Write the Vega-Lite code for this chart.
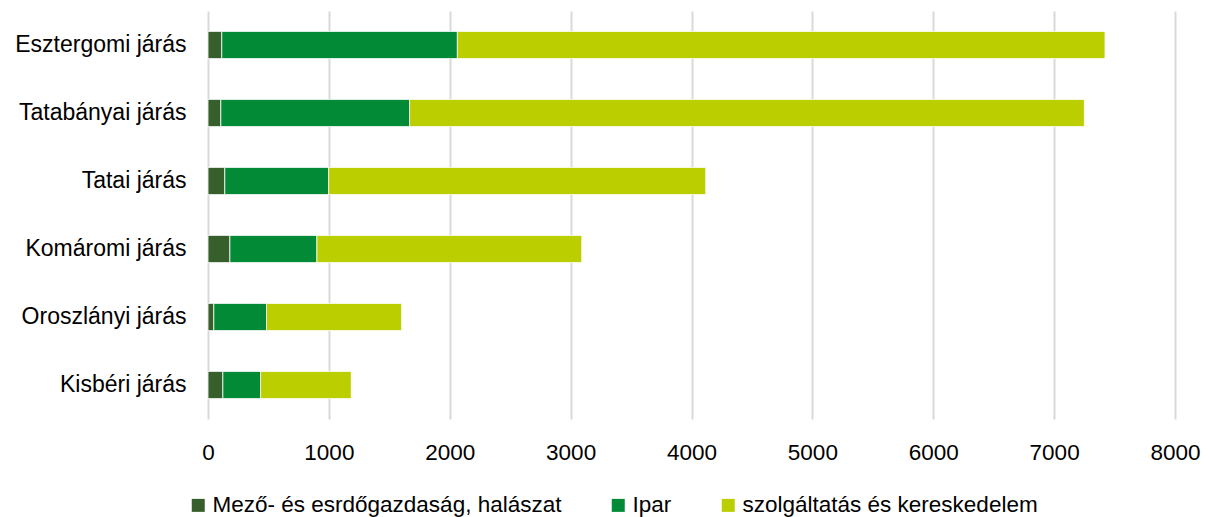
{
  "$schema": "https://vega.github.io/schema/vega-lite/v6.json",
  "autosize": "none",
  "width": 967,
  "height": 408,
  "padding": {"left": 208, "top": 11, "right": 34, "bottom": 98},
  "background": "white",
  "config": {
    "font": "Liberation Sans",
    "view": {"stroke": null}
  },
  "data": {
    "values": [
      {"jaras": "Esztergomi járás", "agazat": "Mező- és esrdőgazdaság, halászat", "o": 1, "v": 114},
      {"jaras": "Esztergomi járás", "agazat": "Ipar", "o": 2, "v": 1949},
      {"jaras": "Esztergomi járás", "agazat": "szolgáltatás és kereskedelem", "o": 3, "v": 5358},
      {"jaras": "Tatabányai járás", "agazat": "Mező- és esrdőgazdaság, halászat", "o": 1, "v": 106},
      {"jaras": "Tatabányai járás", "agazat": "Ipar", "o": 2, "v": 1562},
      {"jaras": "Tatabányai járás", "agazat": "szolgáltatás és kereskedelem", "o": 3, "v": 5582},
      {"jaras": "Tatai járás", "agazat": "Mező- és esrdőgazdaság, halászat", "o": 1, "v": 139},
      {"jaras": "Tatai járás", "agazat": "Ipar", "o": 2, "v": 859},
      {"jaras": "Tatai járás", "agazat": "szolgáltatás és kereskedelem", "o": 3, "v": 3120},
      {"jaras": "Komáromi járás", "agazat": "Mező- és esrdőgazdaság, halászat", "o": 1, "v": 181},
      {"jaras": "Komáromi járás", "agazat": "Ipar", "o": 2, "v": 720},
      {"jaras": "Komáromi járás", "agazat": "szolgáltatás és kereskedelem", "o": 3, "v": 2191},
      {"jaras": "Oroszlányi járás", "agazat": "Mező- és esrdőgazdaság, halászat", "o": 1, "v": 48},
      {"jaras": "Oroszlányi járás", "agazat": "Ipar", "o": 2, "v": 436},
      {"jaras": "Oroszlányi járás", "agazat": "szolgáltatás és kereskedelem", "o": 3, "v": 1118},
      {"jaras": "Kisbéri járás", "agazat": "Mező- és esrdőgazdaság, halászat", "o": 1, "v": 123},
      {"jaras": "Kisbéri járás", "agazat": "Ipar", "o": 2, "v": 312},
      {"jaras": "Kisbéri járás", "agazat": "szolgáltatás és kereskedelem", "o": 3, "v": 750}
    ]
  },
  "mark": {"type": "bar", "stroke": "white", "strokeWidth": 0.8},
  "encoding": {
    "y": {
      "field": "jaras",
      "type": "nominal",
      "sort": null,
      "scale": {"paddingInner": 0.6, "paddingOuter": 0.3},
      "axis": {
        "title": null,
        "domain": false,
        "ticks": false,
        "labelFontSize": 23,
        "labelColor": "#000000",
        "labelPadding": 22,
        "labelLimit": 0
      }
    },
    "x": {
      "field": "v",
      "type": "quantitative",
      "stack": "zero",
      "scale": {"domain": [0, 8000], "nice": false},
      "axis": {
        "title": null,
        "values": [0, 1000, 2000, 3000, 4000, 5000, 6000, 7000, 8000],
        "format": "d",
        "domain": false,
        "ticks": false,
        "grid": true,
        "gridColor": "#d9d9d9",
        "gridWidth": 2,
        "labelFontSize": 22.5,
        "labelColor": "#000000",
        "labelPadding": 22,
        "labelFlush": false
      }
    },
    "order": {"field": "o", "type": "quantitative"},
    "color": {
      "field": "agazat",
      "type": "nominal",
      "sort": ["Mező- és esrdőgazdaság, halászat", "Ipar", "szolgáltatás és kereskedelem"],
      "scale": {
        "domain": ["Mező- és esrdőgazdaság, halászat", "Ipar", "szolgáltatás és kereskedelem"],
        "range": ["#375F2B", "#028A36", "#BBCE00"]
      },
      "legend": {
        "title": null,
        "orient": "none",
        "direction": "horizontal",
        "legendX": -21,
        "legendY": 483,
        "symbolType": "square",
        "symbolSize": 169,
        "symbolStrokeWidth": 0,
        "labelFontSize": 22.5,
        "labelColor": "#000000",
        "labelOffset": 3,
        "labelLimit": 0,
        "columnPadding": 45
      }
    }
  }
}
